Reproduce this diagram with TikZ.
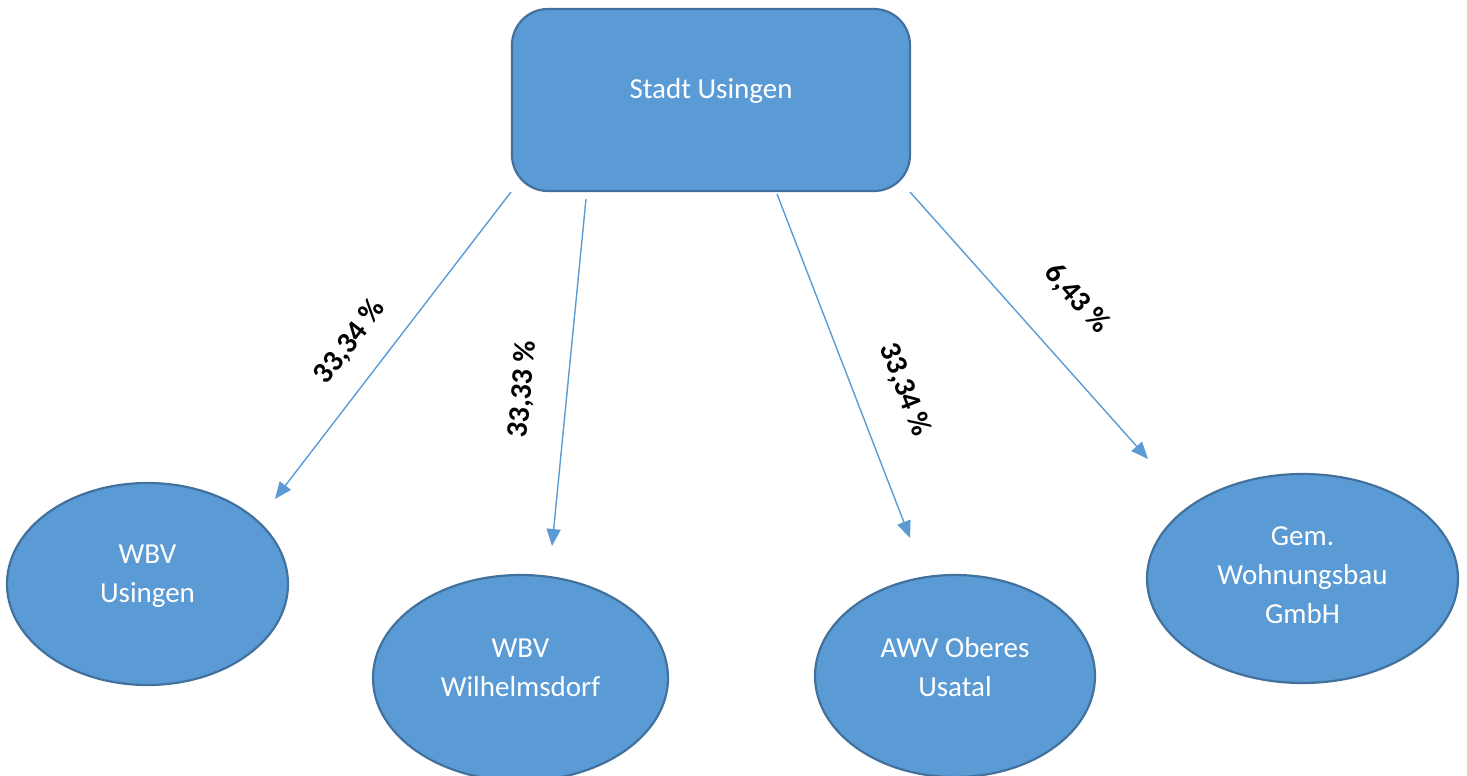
\documentclass[tikz,border=0pt]{standalone}
\usepackage{fontspec}
\setmainfont{Carlito}
\usetikzlibrary{shapes.geometric,arrows.meta}
\definecolor{fillb}{HTML}{5B9BD5}
\definecolor{edgeb}{HTML}{41719C}
\begin{document}
\begin{tikzpicture}[x=0.5pt,y=-0.5pt,
  box/.style={draw=edgeb,fill=fillb,line width=1.1pt,rounded corners=18pt,
    minimum width=199pt,minimum height=91pt,inner sep=0pt},
  oval/.style={ellipse,draw=edgeb,fill=fillb,line width=1.1pt,inner sep=0pt},
  txt/.style={text=white,align=center,inner sep=0pt,
    font=\fontsize{14.5}{19.3}\selectfont},
  link/.style={draw=fillb,line width=0.7pt,-{Triangle[length=8.5pt,width=7pt]}},
  pct/.style={inner sep=0pt,font=\bfseries\fontsize{15}{18}\selectfont}]
\useasboundingbox (0,0) rectangle (1467,776);

% shapes
\node[box] (city) at (711,100) {};
\node[oval,minimum width=140.5pt,minimum height=101pt] (wbvu) at (147.5,584) {};
\node[oval,minimum width=147.5pt,minimum height=103pt] (wbvw) at (520.5,678) {};
\node[oval,minimum width=140pt,minimum height=101pt] (awv) at (955,676) {};
\node[oval,minimum width=155.5pt,minimum height=104.5pt] (gem) at (1302.5,578.5) {};

% texts
\node[txt] (citytxt) at ([yshift=4.5pt]city.center) {Stadt Usingen};
\node[txt] (wbvutxt) at ([yshift=4pt]wbvu.center) {WBV\\Usingen};
\node[txt] (wbvwtxt) at ([yshift=5pt]wbvw.center) {WBV\\Wilhelmsdorf};
\node[txt] (awvtxt) at ([yshift=4.5pt]awv.center) {AWV Oberes\\Usatal};
\node[txt] (gemtxt) at ([yshift=1.7pt]gem.center) {Gem.\\Wohnungsbau\\GmbH};

% connector end points
\coordinate (s1) at (511,192);  \coordinate (e1) at (275,499);
\coordinate (s2) at (586,199);  \coordinate (e2) at (552,546);
\coordinate (s3) at (777,194);  \coordinate (e3) at (910,538);
\coordinate (s4) at (910,192);  \coordinate (e4) at (1148,459);

\draw[link] (s1) -- (e1);
\draw[link] (s2) -- (e2);
\draw[link] (s3) -- (e3);
\draw[link] (s4) -- (e4);

% labels
\node[pct,rotate=52.4] (l1) at (350,342) {33,34 \%};
\node[pct,rotate=84.4] (l2) at (523,389) {33,33 \%};
\node[pct,rotate=-68.9] (l3) at (905,390) {33,34 \%};
\node[pct,rotate=-48.3] (l4) at (1077,299) {6,43 \%};
\end{tikzpicture}
\end{document}
